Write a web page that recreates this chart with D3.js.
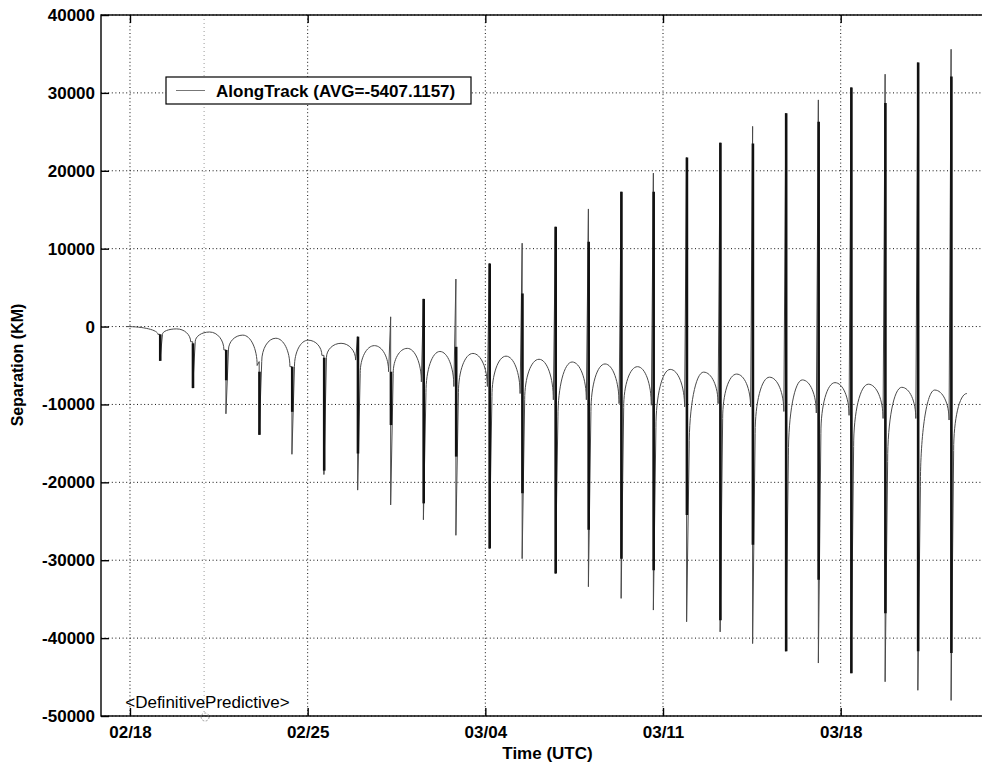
<!DOCTYPE html>
<html>
<head>
<meta charset="utf-8">
<script src="https://cdn.jsdelivr.net/npm/d3@7"></script>
<style>
  body { margin: 0; background: #fff; }
  svg { display: block; font-family: "Liberation Sans", Arial, Helvetica, sans-serif; }
  .tick text { font-size: 17px; font-weight: bold; fill: #000; }
  .grid line { stroke: #111; stroke-width: 1; stroke-dasharray: 1,2.6; }
</style>
</head>
<body>
<div id="chart"></div>
<script>
// ---- data (days after 02/18 00:00 UTC, values in KM) ----
const tickDates = ["2003-02-18", "2003-02-25", "2003-03-04", "2003-03-11", "2003-03-18"];
const yTicks = [-50000, -40000, -30000, -20000, -10000, 0, 10000, 20000, 30000, 40000];
const boundaryDay = 2.92;          // Definitive / Predictive switch
const startDay = -0.16, startVal = 0;
const endDay = 32.97, endVal = -8600;

const cuspDay = [1.18, 2.47, 3.78, 5.09, 6.38, 7.64, 8.97, 10.27, 11.56, 12.84, 14.16, 15.45, 16.76,
  18.06, 19.35, 20.62, 21.93, 23.25, 24.53, 25.84, 27.12, 28.41, 29.75, 31.04, 32.35];
const cuspLeft = [-1000, -1950, -3000, -5000, -5150, -3700, -4300, -5800, -7100, -7700, -7700, -8600, -9400,
  -9400, -9900, -10100, -10300, -9900, -10300, -10900, -11100, -11400, -11800, -11800, -12000];
const cuspRight = [-1000, -1950, -3000, -4500, -5150, -4000, -6000, -6000, -8500, -8500, -9000, -9400, -11600,
  -10900, -10400, -13000, -15600, -11800, -13700, -16500, -13700, -15400, -17300, -20500, -15900];
const spikeHigh = [-1000, -1950, -3000, -4500, -5150, -3700, -1300, 1250, 3550, 6100, 8100, 10700, 12800,
  15100, 17300, 19700, 21700, 23600, 25700, 27400, 29100, 30700, 32400, 33900, 35600];
const spikeLow = [-4400, -7900, -11200, -13900, -16400, -19000, -21000, -22900, -24800, -26800, -28500, -29800, -31700,
  -33400, -34900, -36400, -37900, -39200, -40700, -41700, -43200, -44500, -45600, -46700, -48000];
const thickHigh = [-1000, -2150, -3000, -5800, -5150, -4000, -1300, -5800, 3550, -2600, 8100, 4250, 12800,
  10900, 17300, 17300, 21700, 23600, 23500, 27400, 26300, 30700, 28700, 33900, 32100];
const thickLow = [-4400, -7900, -6900, -13900, -10950, -18500, -16300, -12650, -22700, -16700, -28500, -21400, -31700,
  -26100, -29800, -31300, -24200, -37700, -28000, -41700, -32500, -44500, -36800, -41700, -41900];
// top of each arch between cusp i and cusp i+1
const archTop = [-300, -700, -1100, -1500, -1750, -2150, -2450, -2800, -3200, -3450, -3800, -4200,
  -4550, -4800, -5150, -5500, -5850, -6100, -6500, -6850, -7200, -7400, -7800, -8150];

const legendLabel = "AlongTrack (AVG=-5407.1157)";

// ---- layout ----
const W = 982, H = 767;
const plot = {left: 101, right: 994, top: 15, bottom: 716};

const DAY = 864e5;
const t0 = Date.UTC(2003, 1, 18);
const toDate = d => new Date(t0 + d * DAY);
const parseDay = d3.utcParse("%Y-%m-%d");

const x = d3.scaleUtc()
    .domain([toDate(-1.142), toDate(34.04)])
    .range([plot.left, plot.right]);
const y = d3.scaleLinear()
    .domain([-50000, 40000])
    .range([plot.bottom, plot.top]);

const svg = d3.select("#chart").append("svg")
    .attr("width", W)
    .attr("height", H);

// grid
const grid = svg.append("g").attr("class", "grid");
grid.selectAll(".gy")
    .data(yTicks)
  .join("line")
    .attr("x1", plot.left).attr("x2", plot.right)
    .attr("y1", d => y(d)).attr("y2", d => y(d));
grid.selectAll(".gx")
    .data(tickDates.map(parseDay))
  .join("line")
    .attr("x1", d => x(d)).attr("x2", d => x(d))
    .attr("y1", plot.top).attr("y2", plot.bottom);

// definitive / predictive boundary
svg.append("line")
    .attr("x1", x(toDate(boundaryDay))).attr("x2", x(toDate(boundaryDay)))
    .attr("y1", plot.top).attr("y2", plot.bottom)
    .attr("stroke", "#9a9a9a")
    .attr("stroke-dasharray", "1,3");

// ---- the series ----
const k = 0.552;
const dl = 0.08, dr = 0.1;
const p = d3.path();

function downQuarter(x0, y0, x1, y1) {   // horizontal at (x0,y0), vertical at (x1,y1)
  p.bezierCurveTo(x0 + k * (x1 - x0), y0, x1, y1 + k * (y0 - y1), x1, y1);
}
function upQuarter(x0, y0, x1, y1) {     // vertical at (x0,y0), horizontal at (x1,y1)
  p.bezierCurveTo(x0, y0 + k * (y1 - y0), x1 - k * (x1 - x0), y1, x1, y1);
}

p.moveTo(x(toDate(startDay)), y(startVal));
downQuarter(x(toDate(startDay)), y(startVal), x(toDate(cuspDay[0] - dl)), y(cuspLeft[0]));

cuspDay.forEach((c, i) => {
  const xs = x(toDate(c));
  p.lineTo(xs, y(spikeHigh[i]));
  p.lineTo(xs, y(spikeLow[i]));
  const xa = x(toDate(c + dr)), ya = y(cuspRight[i]);
  p.lineTo(xa, ya);
  if (i < archTop.length) {
    const xb = x(toDate(cuspDay[i + 1] - dl)), yb = y(cuspLeft[i + 1]);
    const xm = (xa + xb) / 2, yt = y(archTop[i]);
    upQuarter(xa, ya, xm, yt);
    downQuarter(xm, yt, xb, yb);
  } else {
    upQuarter(xa, ya, x(toDate(endDay)), y(endVal));
  }
});

svg.append("path")
    .attr("d", p.toString())
    .attr("fill", "none")
    .attr("stroke", "#4a4a4a")
    .attr("stroke-width", 1)
    .attr("stroke-linejoin", "round");

svg.append("g")
  .selectAll("line")
    .data(cuspDay)
  .join("line")
    .attr("x1", d => x(toDate(d)) + 0.3).attr("x2", d => x(toDate(d)) + 0.3)
    .attr("y1", (d, i) => y(thickHigh[i]))
    .attr("y2", (d, i) => y(thickLow[i]))
    .attr("stroke", "#111")
    .attr("stroke-width", 2.6);

// ---- frame & axes ----
svg.append("rect")
    .attr("x", plot.left).attr("y", plot.top)
    .attr("width", plot.right - plot.left)
    .attr("height", plot.bottom - plot.top)
    .attr("fill", "none")
    .attr("stroke", "#000")
    .attr("stroke-width", 1.4);

svg.append("g")
    .attr("transform", `translate(${plot.left},0)`)
    .call(d3.axisLeft(y).tickValues(yTicks).tickSize(-8).tickPadding(6).tickFormat(d => String(d)));

svg.append("g")
    .attr("transform", `translate(0,${plot.bottom})`)
    .call(d3.axisBottom(x).tickValues(tickDates.map(parseDay)).tickSize(-8).tickPadding(10)
      .tickFormat(d3.utcFormat("%m/%d")));

svg.append("g")
    .attr("transform", `translate(0,${plot.top})`)
    .call(d3.axisTop(x).tickValues(tickDates.map(parseDay)).tickSize(-8).tickFormat(""));

svg.selectAll(".domain").remove();
svg.selectAll(".tick line").attr("stroke", "#000").attr("stroke-width", 1.4);

// axis titles
svg.append("text")
    .attr("x", 547.5).attr("y", 759)
    .attr("text-anchor", "middle")
    .style("font-size", "17px").style("font-weight", "bold")
    .text("Time (UTC)");

svg.append("text")
    .attr("transform", "translate(23,365) rotate(-90)")
    .attr("text-anchor", "middle")
    .style("font-size", "16px").style("font-weight", "bold")
    .text("Separation (KM)");

// definitive / predictive label
const bx = x(toDate(boundaryDay));
svg.append("text")
    .attr("x", bx + 1).attr("y", 708)
    .attr("text-anchor", "end")
    .style("font-size", "17px")
    .text("<Definitive");
svg.append("text")
    .attr("x", bx + 1).attr("y", 708)
    .style("font-size", "17px")
    .text("Predictive>");
svg.append("circle")
    .attr("cx", bx + 1).attr("cy", plot.bottom + 1)
    .attr("r", 4)
    .attr("fill", "none")
    .attr("stroke", "#999")
    .attr("stroke-dasharray", "2,1.5");

// legend
const legend = svg.append("g").attr("transform", "translate(166,77)");
legend.append("rect")
    .attr("width", 305).attr("height", 27)
    .attr("fill", "#fff")
    .attr("stroke", "#000")
    .attr("stroke-width", 1.2);
legend.append("line")
    .attr("x1", 10).attr("x2", 39)
    .attr("y1", 13.5).attr("y2", 13.5)
    .attr("stroke", "#777");
legend.append("text")
    .attr("x", 50).attr("y", 20)
    .style("font-size", "17px").style("font-weight", "bold")
    .text(legendLabel);
</script>
</body>
</html>
